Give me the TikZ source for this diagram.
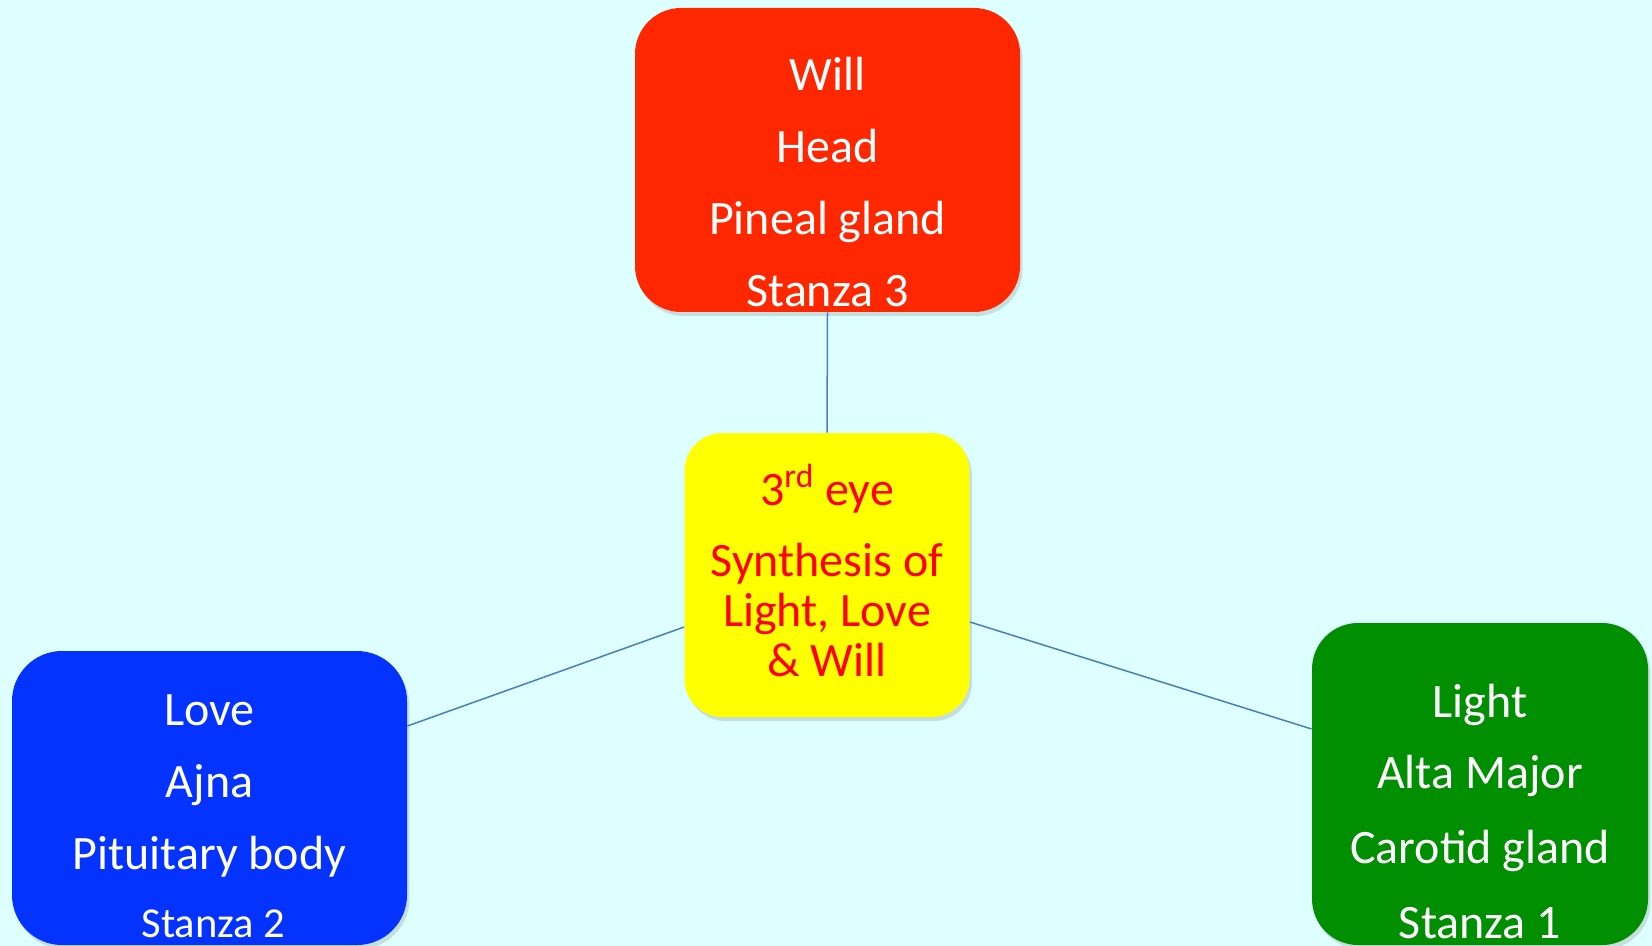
\documentclass[tikz,border=0pt]{standalone}
\usepackage{fontspec}
\setmainfont{Carlito}
\usetikzlibrary{
  positioning,
  shadows,
}
\definecolor{skycyan}{HTML}{DDFFFF}
\definecolor{willred}{HTML}{FF2700}
\definecolor{eyeyellow}{HTML}{FFFF00}
\definecolor{loveblue}{HTML}{0433FF}
\definecolor{lightgreen}{HTML}{008F00}
\definecolor{linkblue}{HTML}{4A7EBB}
\tikzset{
  box/.style={inner sep=0pt, drop shadow={shadow xshift=1.2pt, shadow yshift=-2pt, opacity=0.25}},
  boxtext/.style={align=center, inner sep=0pt, text=white},
  link/.style={draw=linkblue, line width=0.75pt},
}

\begin{document}
\begin{tikzpicture}[x=0.5pt, y=-0.5pt]
  \fill[skycyan] (0,0) rectangle (1652,946);

  % boxes
  \node [box, fill=willred, rounded corners=23pt, minimum width=192.5pt, minimum height=152pt]
    (will) at (827.5,160) {};
  \node [box, fill=eyeyellow, rounded corners=19pt, minimum width=142.5pt, minimum height=142pt]
    (eye) at (827,575) {};
  \node [box, fill=loveblue, rounded corners=25pt, minimum width=197.5pt, minimum height=147pt]
    (love) at (209.5,798) {};
  \node [box, fill=lightgreen, rounded corners=23pt, minimum width=168pt, minimum height=161pt]
    (light) at (1480,784) {};

  % texts
  \node [boxtext, font=\fontsize{24}{36}\selectfont, below=24.5pt of will.north] (willtext) {
    Will \\ Head \\ Pineal gland \\ Stanza 3
  };
  \node [boxtext, text=red, font=\fontsize{24}{25}\selectfont, below=15.5pt of eye.north] (eyetext) {
    3\textsuperscript{rd} eye \\[10.5pt] Synthesis of \\ Light, Love \\ \& Will
  };
  \node [boxtext, font=\fontsize{24}{36}\selectfont, below=22pt of love.north] (lovetext) {
    Love \\ Ajna \\ Pituitary body \\[-2pt] {\fontsize{21.3}{32}\selectfont\hspace{4pt}Stanza 2}
  };
  \node [boxtext, font=\fontsize{24}{37.5}\selectfont, below=30.5pt of light.north] (lighttext) {
    Light \\[-2pt] Alta Major \\ Carotid gland \\ Stanza 1
  };

  % links
  \draw [link] (will.south) -- (eye.north);
  \draw [link] ([yshift=-26pt]eye.west) -- ([yshift=36pt]love.east);
  \draw [link] ([yshift=-23.5pt]eye.east) -- ([yshift=27.5pt]light.west);
\end{tikzpicture}
\end{document}
